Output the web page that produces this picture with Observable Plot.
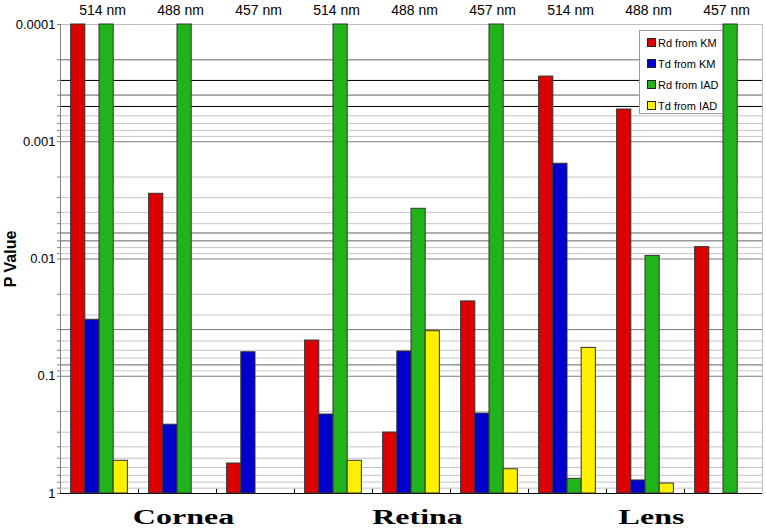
<!DOCTYPE html>
<html>
<head>
<meta charset="utf-8">
<script src="https://cdn.jsdelivr.net/npm/d3@7"></script>
<script src="https://cdn.jsdelivr.net/npm/@observablehq/plot@0.6"></script>
<style>
  body { margin: 0; background: #fff; }
  #wrap { position: relative; width: 766px; height: 530px; font-family: "Liberation Sans", Arial, Helvetica, sans-serif; }
  #legend { position: absolute; left: 639px; top: 30px; width: 84px; height: 84px; box-sizing: border-box;
            border: 1px solid #9a9a9a; background: #fff; padding-top: 1px; }
  #legend .item { height: 21px; display: flex; align-items: center; font-size: 11px; color: #000; padding-left: 7px; }
  #legend .sw { width: 7px; height: 7px; border: 1px solid #222; margin-right: 2px; flex: none; }
</style>
</head>
<body>
<div id="wrap"></div>
<script>
// ---- data ----
const tissues = ["Cornea", "Retina", "Lens"];
const wavelengths = ["514 nm", "488 nm", "457 nm"];
const seriesNames = ["Rd from KM", "Td from KM", "Rd from IAD", "Td from IAD"];
// values per group, order: Cornea 514/488/457, Retina 514/488/457, Lens 514/488/457
const rdKM  = [0.0001, 0.00278, 0.555, 0.0496, 0.302, 0.0230, 0.000278, 0.000531, 0.00792];
const tdKM  = [0.033, 0.259, 0.0624, 0.212, 0.0615, 0.208, 0.00154, 0.774, null];
const rdIAD = [0.0001, 0.0001, 1, 0.0001, 0.00373, 0.0001, 0.75, 0.0094, 0.0001];
const tdIAD = [0.526, 1, 1, 0.526, 0.0413, 0.621, 0.0573, 0.822, null];
// y axis ticks
const majorTicks = [0.0001, 0.001, 0.01, 0.1, 1];
const majorTickLabels = ["0.0001", "0.001", "0.01", "0.1", "1"];
const minorMultipliers = [2, 3, 4, 5, 6, 7, 8, 9];
const darkGrid = [0.0002, 0.0004, 0.001, 0.006, 0.007, 0.01, 0.04, 0.08, 0.1];
const blackGrid = [0.0003, 0.0005];

// ---- styling ----
const seriesColors = ["#dd0000", "#0000cc", "#20b41a", "#fff000"];

// ---- derived tables ----
const seriesValues = [rdKM, tdKM, rdIAD, tdIAD];
const PAD = 0.75;               // outer padding per group (in bar units)
const G = seriesNames.length + 2 * PAD; // group width in bar units
const minorTicks = [];
majorTicks.slice(0, -1).forEach(d => minorMultipliers.forEach(m => minorTicks.push(+(d * m).toPrecision(3))));

const groups = [];
tissues.forEach((t, ti) => wavelengths.forEach((w, wi) => {
  const g = ti * wavelengths.length + wi;
  groups.push({g, tissue: t, wl: w, cx: g * G + G / 2});
}));
const bars = [];
groups.forEach(gr => seriesNames.forEach((s, si) => {
  const v = seriesValues[si][gr.g];
  if (v != null) bars.push({series: s, value: v, x1: gr.g * G + PAD + si, x2: gr.g * G + PAD + si + 1});
}));
const tissueLabels = tissues.map((t, ti) => ({tissue: t, cx: (ti * wavelengths.length + 1) * G + G / 2}));
const boundaries = d3.range(1, groups.length).map(i => i * G);
const xMax = groups.length * G;

const chart = Plot.plot({
  width: 766, height: 530,
  marginLeft: 60, marginRight: 4, marginTop: 24, marginBottom: 37,
  style: {fontFamily: '"Liberation Sans", Arial, Helvetica, sans-serif', fontSize: "13px", color: "#000", background: "#fff", overflow: "visible"},
  x: {domain: [0, xMax], axis: null},
  y: {type: "log", domain: [1, 0.0001], axis: null},
  color: {domain: seriesNames, range: seriesColors},
  marks: [
    Plot.ruleY(minorTicks, {stroke: "#c4c4c4"}),
    Plot.ruleY(darkGrid, {stroke: "#7c7c7c"}),
    Plot.ruleY(blackGrid, {stroke: "#000"}),
    Plot.ruleY([0.0001], {stroke: "#bdbdbd"}),
    Plot.ruleX([xMax], {stroke: "#bdbdbd"}),
    Plot.ruleY([1], {stroke: "#000"}),
    Plot.rect(bars, {x1: "x1", x2: "x2", y1: 1, y2: "value", fill: "series", stroke: "#333", strokeWidth: 1}),
    Plot.ruleX([0], {stroke: "#808080"}),
    Plot.ruleX(boundaries, {y1: 1, y2: 0.92, stroke: "#000"}),
    Plot.axisY(minorTicks, {tickSize: 3, stroke: "#808080", tickFormat: () => "", label: null}),
    Plot.axisY(majorTicks, {tickSize: 3, tickPadding: 2, stroke: "#808080", fontSize: 13,
      tickFormat: d => majorTickLabels[majorTicks.indexOf(d)], label: null}),
    Plot.text(groups, {x: "cx", text: "wl", frameAnchor: "top", lineAnchor: "middle", dy: -14, dx: 3, fontSize: 14}),
    Plot.text(tissueLabels, {x: "cx", text: "tissue", frameAnchor: "bottom", lineAnchor: "middle", dy: 24, dx: 6,
      fontFamily: '"Liberation Serif", "Times New Roman", serif', fontWeight: "bold", fontSize: 20}),
    Plot.text(["P Value"], {text: d => d, frameAnchor: "left", textAnchor: "middle", lineAnchor: "middle",
      dx: -50, rotate: -90, fontWeight: "bold", fontSize: 16})
  ]
});

// stretch the tissue names horizontally like the reference's wide serif
d3.select(chart).selectAll("text")
  .filter(function () { return tissues.includes(this.textContent); })
  .attr("transform", function () { return (this.getAttribute("transform") || "") + " scale(1.6,1)"; });

const wrap = document.getElementById("wrap");
wrap.appendChild(chart);

// legend box
const legend = document.createElement("div");
legend.id = "legend";
seriesNames.forEach((s, i) => {
  const item = document.createElement("div");
  item.className = "item";
  const sw = document.createElement("span");
  sw.className = "sw";
  sw.style.background = seriesColors[i];
  item.appendChild(sw);
  item.appendChild(document.createTextNode(s));
  legend.appendChild(item);
});
wrap.appendChild(legend);
</script>
</body>
</html>
